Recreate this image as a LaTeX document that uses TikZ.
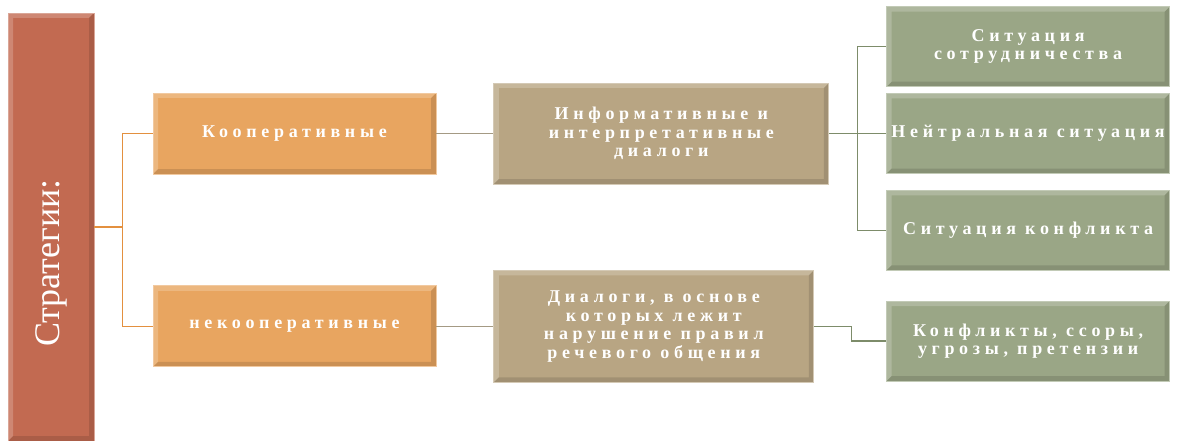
\documentclass[tikz,border=0pt]{standalone}
\usepackage{fontspec}
\setmainfont{Liberation Serif}
\newfontfamily\spacedfont[LetterSpace=26]{Liberation Serif}
\usepackage{tikz}
\usetikzlibrary{positioning}

\definecolor{rootred}{HTML}{C26A51}
\definecolor{coopor}{HTML}{E8A560}
\definecolor{dialtan}{HTML}{B8A583}
\definecolor{sitgreen}{HTML}{9AA686}
\definecolor{coopline}{HTML}{E3903F}
\definecolor{tanline}{HTML}{A49A84}
\definecolor{greenline}{HTML}{7D8C6A}

\tikzset{
  bevel/.style={path picture={
    \fill[white,opacity=.2] (path picture bounding box.south west) -- (path picture bounding box.north west) -- (path picture bounding box.north east)
      -- ([shift={(-5pt,-5pt)}]path picture bounding box.north east) -- ([shift={(5pt,-5pt)}]path picture bounding box.north west)
      -- ([shift={(5pt,5pt)}]path picture bounding box.south west) -- cycle;
    \fill[black,opacity=.12] (path picture bounding box.south west) -- (path picture bounding box.south east) -- (path picture bounding box.north east)
      -- ([shift={(-5pt,-5pt)}]path picture bounding box.north east) -- ([shift={(-5pt,5pt)}]path picture bounding box.south east)
      -- ([shift={(5pt,5pt)}]path picture bounding box.south west) -- cycle;
  }},
  box/.style={draw=#1!60!white, fill=#1, line width=0.8pt, rectangle, inner sep=2pt, minimum height=80pt,
    text=white, align=center, font={\spacedfont\bfseries\fontsize{18}{18.5}\selectfont}, bevel},
  link/.style={draw=#1, line width=1.3pt}
}

\begin{document}
\begin{tikzpicture}[x=1pt, y=-1pt, node distance=57pt]
\useasboundingbox (0,0) rectangle (1177,441);

\node (root) [box=rootred, minimum width=86pt, minimum height=428pt] at (51,227) {};
\node (roottitle) [rotate=90, text=white, font=\fontsize{36}{36}\selectfont] at (51,263) {Стратегии:};

\node (coop) [box=coopor, minimum width=283pt, minimum height=81pt] at (294.5,133.5) {Кооперативные};
\node (noncoop) [box=coopor, minimum width=283pt, minimum height=81pt, below=111pt of coop] {некооперативные};

\node (infodial) [box=dialtan, minimum width=335pt, minimum height=101pt, right=of coop] {Информативные и\\интерпретативные\\диалоги};
\node (violdial) [box=dialtan, minimum width=320pt, minimum height=112pt, right=of noncoop] {Диалоги, в основе\\которых лежит\\нарушение правил\\речевого общения};

\node (neutsit) [box=sitgreen, minimum width=283pt, right=of infodial] {Нейтральная ситуация};
\node (coopsit) [box=sitgreen, minimum width=283pt, above=6pt of neutsit] {Ситуация\\сотрудничества};
\node (confsit) [box=sitgreen, minimum width=283pt, below=16pt of neutsit] {Ситуация конфликта};
\node (quarrel) [box=sitgreen, minimum width=283pt, below=30pt of confsit] {Конфликты, ссоры,\\угрозы, претензии};

% forks
\coordinate [right=28pt of root] (rootfork);
\coordinate [right=28pt of infodial] (infofork);
\coordinate [right=37pt of violdial] (violstep);

\draw [link=coopline] (root) -- (rootfork) |- (coop);
\draw [link=coopline] (rootfork) |- (noncoop);
\draw [link=tanline] (coop) -- (infodial);
\draw [link=tanline] (noncoop) -- (violdial);
\draw [link=greenline] (infodial) -- (infofork) |- (coopsit);
\draw [link=greenline] (infofork) -- (neutsit);
\draw [link=greenline] (infofork) |- (confsit);
\draw [link=greenline] (violdial) -- (violstep) |- (quarrel);
\end{tikzpicture}
\end{document}
